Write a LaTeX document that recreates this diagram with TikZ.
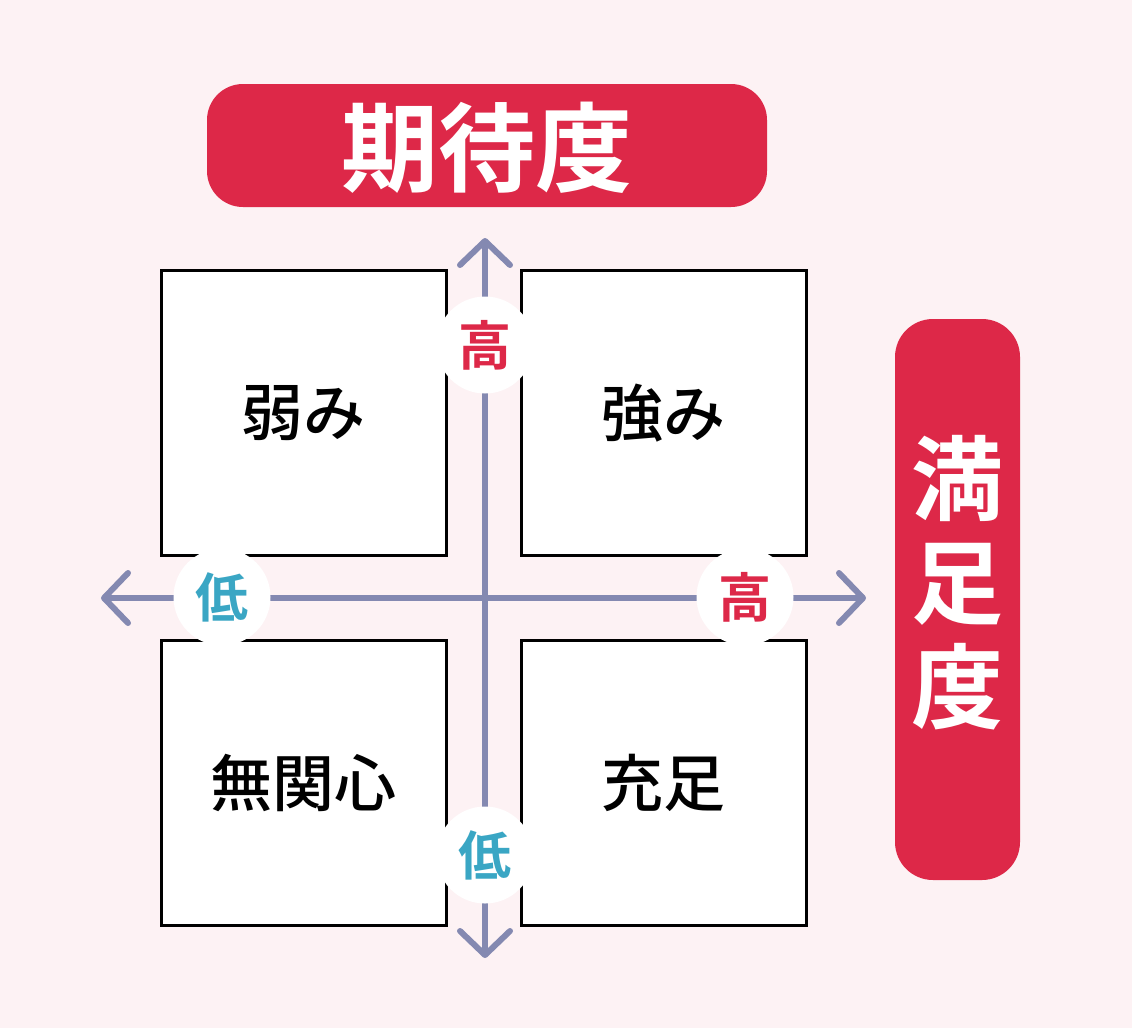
\documentclass[tikz,border=0pt]{standalone}
\usepackage{fontspec}
\setmainfont{Noto Sans CJK JP}
\newfontfamily\medfont{Noto Sans CJK JP Medium}
\newfontfamily\boldfont{Noto Sans CJK JP Bold}
\usetikzlibrary{arrows.meta}
\definecolor{bgc}{HTML}{FDF2F4}
\definecolor{accent}{HTML}{DD2848}
\definecolor{lowc}{HTML}{3AA6C4}
\definecolor{axisc}{HTML}{8489B1}
\tikzset{
  quad/.style={draw=black, line width=3pt, fill=white, minimum width=285pt, minimum height=285pt, inner sep=0pt, font=\medfont\fontsize{62}{62}\selectfont},
  axisline/.style={draw=axisc, line width=6pt, line cap=round, {Straight Barb[length=24pt,width=50pt,line cap=round,line join=round]}-{Straight Barb[length=24pt,width=50pt,line cap=round,line join=round]}},
  badge/.style={circle, fill=white, minimum size=97pt, inner sep=0pt, font=\boldfont\fontsize{53}{53}\selectfont},
  bar/.style={fill=accent, inner sep=0pt},
  bartext/.style={text=white, inner sep=0pt, align=center}
}
\begin{document}
\begin{tikzpicture}[x=1pt,y=-1pt]
\fill[bgc] (0,0) rectangle (1132,1028);
\useasboundingbox (0,0) rectangle (1132,1028);
% bars
\node[bar, rounded corners=36pt, minimum width=560pt, minimum height=123pt] (title) at (487,145.5) {};
\node[bartext, font=\boldfont\fontsize{97}{97}\selectfont] (titletext) at (487,148) {期待度};
\node[bar, rounded corners=38pt, minimum width=125pt, minimum height=561pt] (side) at (957.5,599.5) {};
\node[bartext, font=\boldfont\fontsize{92}{104}\selectfont] (sidetext) at (957.5,583) {満\\足\\度};
% quadrants
\node[quad] (tl) at (303.5,413) {弱み};
\node[quad] (tr) at (663.5,413) {強み};
\node[quad] (bl) at (303.5,783) {無関心};
\node[quad] (br) at (663.5,783) {充足};
% axes
\coordinate (vtop) at (485,238);
\coordinate (vbot) at (485,958);
\coordinate (hleft) at (101,598);
\coordinate (hright) at (866,598);
\draw[axisline] (vbot) -- (vtop);
\draw[axisline] (hleft) -- (hright);
% badges
\node[badge, text=accent] (vhigh) at (485,345) {高};
\node[badge, text=lowc] (vlow) at (485,855) {低};
\node[badge, text=lowc] (hlow) at (222,597) {低};
\node[badge, text=accent] (hhigh) at (745,597) {高};
\end{tikzpicture}
\end{document}
